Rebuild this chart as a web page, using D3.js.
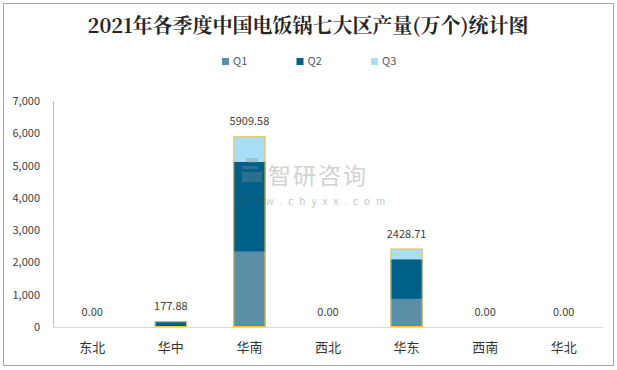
<!DOCTYPE html>
<html>
<head>
<meta charset="utf-8">
<script src="https://cdn.jsdelivr.net/npm/d3@7"></script>
<style>
  body { margin: 0; background: #fff; }
  svg text { font-family: "Microsoft YaHei", "Noto Sans CJK SC", sans-serif; }
</style>
</head>
<body>
<div id="chart"></div>
<script>
var width = 617,
    height = 370;

var regions = ["东北", "华中", "华南", "西北", "华东", "西南", "华北"];
var q1 = [0, 0, 2330, 0, 870, 0, 0];
var q2 = [0, 177.88, 2790, 0, 1230, 0, 0];
var q3 = [0, 0, 789.58, 0, 328.71, 0, 0];
var totals = [0, 177.88, 5909.58, 0, 2428.71, 0, 0];
var yTicks = [0, 1000, 2000, 3000, 4000, 5000, 6000, 7000];
var seriesNames = ["Q1", "Q2", "Q3"];
var seriesColors = ["#5b8fa8", "#00608a", "#a8dff6"];

var margin = {top: 101, right: 14, bottom: 43, left: 53};

var svg = d3.select("#chart").append("svg")
    .attr("width", width)
    .attr("height", height);

svg.append("rect")
    .attr("x", 3.5).attr("y", 3.5)
    .attr("width", 610).attr("height", 362)
    .attr("fill", "#fff")
    .attr("stroke", "#a6a6a6");

svg.append("text")
    .attr("x", 308).attr("y", 33)
    .attr("text-anchor", "middle")
    .attr("font-size", 20)
    .attr("font-weight", "bold")
    .attr("fill", "#262626")
    .style("font-family", "'Noto Serif CJK SC', 'Noto Sans CJK SC', serif")
    .text("2021年各季度中国电饭锅七大区产量(万个)统计图");

// legend
var legend = svg.selectAll(".legend")
    .data(seriesNames)
    .enter()
    .append("g")
    .attr("class", "legend")
    .attr("transform", function(d, i) { return "translate(" + (222 + i * 74.5) + ",58)"; });
legend.append("rect")
    .attr("width", 7).attr("height", 7)
    .attr("fill", function(d, i) { return seriesColors[i]; });
legend.append("text")
    .attr("x", 11).attr("y", 7)
    .attr("font-size", 11)
    .attr("fill", "#595959")
    .text(function(d) { return d; });

var x = d3.scaleBand()
    .domain(regions)
    .range([margin.left, width - margin.right])
    .paddingInner(0.59)
    .paddingOuter(0.295);

var y = d3.scaleLinear()
    .domain([0, 7000])
    .range([height - margin.bottom, margin.top]);

// y axis labels
svg.selectAll(".ytick")
    .data(yTicks)
    .enter()
    .append("text")
    .attr("class", "ytick")
    .attr("x", 40)
    .attr("y", function(d) { return y(d) + 4; })
    .attr("text-anchor", "end")
    .attr("font-size", 11)
    .attr("fill", "#404040")
    .text(function(d) { return d3.format(",")(d); });

svg.append("line")
    .attr("x1", margin.left + 0.5).attr("x2", margin.left + 0.5)
    .attr("y1", margin.top).attr("y2", y(0))
    .attr("stroke", "#bfbfbf");

// stacked bars
var stackData = regions.map(function(r, i) {
    return {region: r, Q1: q1[i], Q2: q2[i], Q3: q3[i]};
});
var stacked = d3.stack().keys(seriesNames)(stackData);

svg.selectAll(".series")
    .data(stacked)
    .enter()
    .append("g")
    .attr("fill", function(d, i) { return seriesColors[i]; })
    .selectAll("rect")
    .data(function(d) { return d; })
    .enter()
    .append("rect")
    .attr("x", function(d) { return x(d.data.region); })
    .attr("y", function(d) { return y(d[1]); })
    .attr("width", x.bandwidth())
    .attr("height", function(d) { return y(d[0]) - y(d[1]); });

// total outline
svg.selectAll(".total")
    .data(regions.filter(function(r, i) { return totals[i] > 0; }))
    .enter()
    .append("rect")
    .attr("class", "total")
    .attr("x", function(d) { return x(d) + 0.5; })
    .attr("y", function(d) { return y(totals[regions.indexOf(d)]) + 0.5; })
    .attr("width", x.bandwidth() - 1)
    .attr("height", function(d) { return y(0) - y(totals[regions.indexOf(d)]) - 1; })
    .attr("fill", "none")
    .attr("stroke", "#f5c242")
    .attr("stroke-width", 1);

svg.append("line")
    .attr("x1", margin.left).attr("x2", width - margin.right)
    .attr("y1", y(0) + 0.5).attr("y2", y(0) + 0.5)
    .attr("stroke", "#d9d9d9");

// total labels
svg.selectAll(".tlabel")
    .data(regions)
    .enter()
    .append("text")
    .attr("x", function(d) { return x(d) + x.bandwidth() / 2; })
    .attr("y", function(d, i) { return y(totals[i]) - 11; })
    .attr("text-anchor", "middle")
    .attr("font-size", 11)
    .attr("fill", "#404040")
    .text(function(d, i) { return totals[i].toFixed(2); });

// x labels
svg.selectAll(".xlabel")
    .data(regions)
    .enter()
    .append("text")
    .attr("x", function(d) { return x(d) + x.bandwidth() / 2; })
    .attr("y", 352)
    .attr("text-anchor", "middle")
    .attr("font-size", 13)
    .attr("fill", "#333")
    .text(function(d) { return d; });

// watermark
var wm = svg.append("g").attr("opacity", 0.35);
wm.append("path")
    .attr("d", "M242,166 h16 v-3 h-12 v-5 h12 v11 h-16 z M242,172 h20 v10 h-20 z")
    .attr("fill", "#7f8a94");
wm.append("text")
    .attr("x", 268).attr("y", 184)
    .attr("font-size", 23)
    .attr("fill", "#808080")
    .attr("letter-spacing", 2)
    .text("智研咨询");
wm.append("text")
    .attr("x", 238).attr("y", 205)
    .attr("font-size", 10)
    .attr("fill", "#555")
    .attr("letter-spacing", 6)
    .text("www.chyxx.com");
</script>
</body>
</html>
